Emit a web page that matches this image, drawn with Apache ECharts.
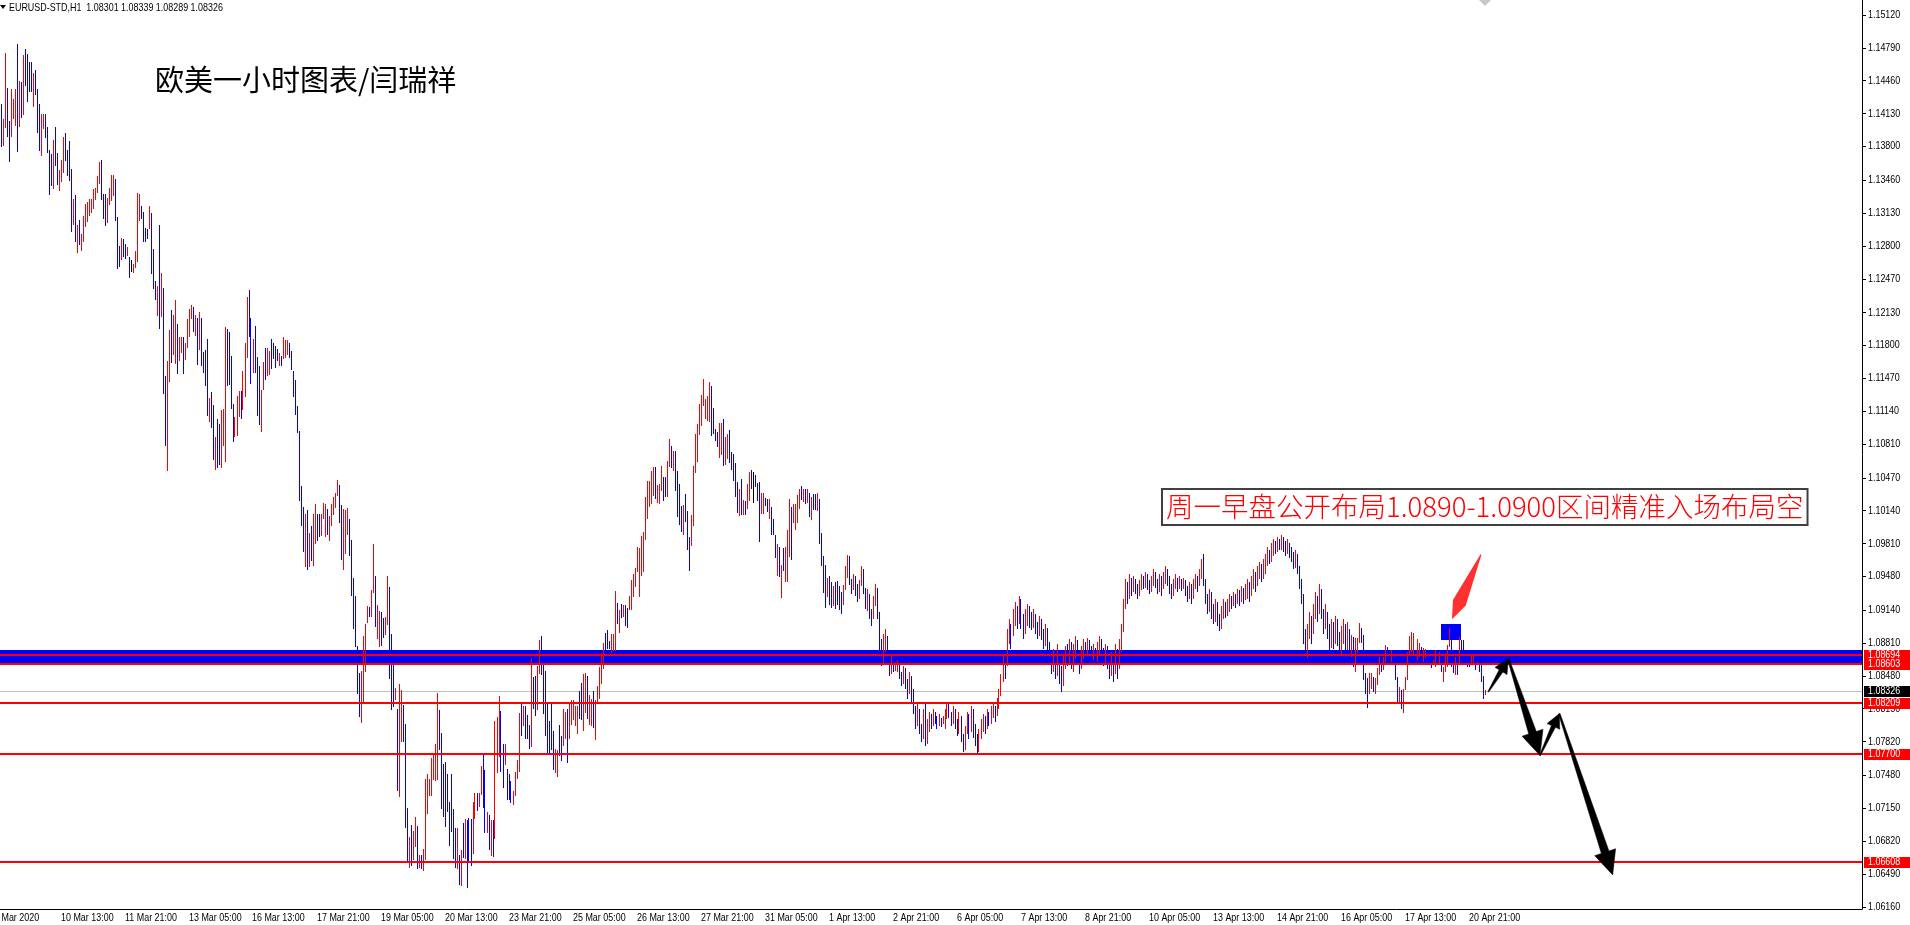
<!DOCTYPE html>
<html><head><meta charset="utf-8">
<script src="https://cdn.jsdelivr.net/npm/echarts@6/dist/echarts.min.js"></script>
<style>html,body{margin:0;padding:0;background:#fff;overflow:hidden}#c{width:1910px;height:925px}</style>
</head><body><div id="c"></div>
<script>
// ---- data (EURUSD H1, 9 Mar 2020 08:00 -> 21 Apr 2020 06:00) ----
const highs = [
1.1423,1.1408,1.1474,1.1439,1.1406,1.1438,1.1428,1.1438,1.1483,1.1446,
1.1445,1.1472,1.1478,1.1473,1.1465,1.1465,1.1454,1.1457,1.1438,1.1423,
1.1413,1.1413,1.1413,1.1399,1.1376,1.1372,1.1386,1.1400,1.1373,1.1356,
1.1366,1.1389,1.1393,1.1376,1.1385,1.1357,1.1327,1.1331,1.1301,1.1306,
1.1292,1.1310,1.1322,1.1324,1.1327,1.1327,1.1337,1.1338,1.1350,1.1364,
1.1366,1.1332,1.1332,1.1328,1.1338,1.1351,1.1351,1.1347,1.1309,1.1280,
1.1288,1.1287,1.1282,1.1279,1.1269,1.1266,1.1262,1.1275,1.1333,1.1332,
1.1320,1.1314,1.1298,1.1297,1.1320,1.1313,1.1277,1.1245,1.1240,1.1301,
1.1253,1.1238,1.1149,1.1164,1.1196,1.1216,1.1211,1.1226,1.1202,1.1189,
1.1189,1.1189,1.1182,1.1207,1.1217,1.1221,1.1219,1.1211,1.1208,1.1214,
1.1208,1.1173,1.1175,1.1186,1.1127,1.1133,1.1120,1.1088,1.1106,1.1101,
1.1115,1.1116,1.1199,1.1197,1.1194,1.1169,1.1121,1.1108,1.1129,1.1134,
1.1134,1.1154,1.1182,1.1229,1.1236,1.1208,1.1186,1.1200,1.1168,1.1159,
1.1135,1.1163,1.1177,1.1177,1.1174,1.1186,1.1182,1.1179,1.1176,1.1172,
1.1169,1.1189,1.1185,1.1185,1.1182,1.1174,1.1154,1.1145,1.1119,1.1094,
1.1039,1.1018,1.1011,1.1015,1.0992,1.0999,1.1011,1.1021,1.1011,1.1011,
1.1011,1.1022,1.1021,1.1016,1.1009,1.1021,1.1028,1.1032,1.1045,1.1040,
1.1020,1.1016,1.1015,1.1017,1.1006,1.0985,1.0946,1.0928,1.0878,1.0851,
1.0853,1.0888,1.0900,1.0918,1.0917,1.0934,1.0981,1.0948,1.0919,1.0913,
1.0912,1.0906,1.0907,1.0948,1.0937,1.0890,1.0861,1.0836,1.0815,1.0840,
1.0834,1.0819,1.0800,1.0715,1.0686,1.0698,1.0692,1.0706,1.0697,1.0668,
1.0668,1.0674,1.0744,1.0749,1.0744,1.0766,1.0770,1.0780,1.0831,1.0814,
1.0791,1.0759,1.0761,1.0749,1.0721,1.0749,1.0714,1.0695,1.0695,1.0668,
1.0673,1.0700,1.0704,1.0703,1.0705,1.0704,1.0721,1.0730,1.0730,1.0730,
1.0757,1.0769,1.0753,1.0711,1.0708,1.0703,1.0703,1.0803,1.0807,1.0828,
1.0813,1.0780,1.0780,1.0754,1.0749,1.0742,1.0732,1.0751,1.0764,1.0811,
1.0821,1.0818,1.0818,1.0809,1.0799,1.0866,1.0847,1.0848,1.0858,1.0884,
1.0888,1.0862,1.0853,1.0821,1.0803,1.0820,1.0793,1.0775,1.0774,1.0799,
1.0788,1.0815,1.0812,1.0815,1.0821,1.0824,1.0824,1.0818,1.0818,1.0833,
1.0841,1.0850,1.0851,1.0848,1.0829,1.0825,1.0833,1.0824,1.0838,1.0857,
1.0871,1.0881,1.0891,1.0894,1.0883,1.0890,1.0890,1.0933,1.0921,1.0914,
1.0920,1.0919,1.0919,1.0916,1.0928,1.0944,1.0950,1.0956,1.0978,1.0977,
1.0989,1.0993,1.1028,1.1044,1.1044,1.1054,1.1058,1.1058,1.1040,1.1041,
1.1059,1.1048,1.1048,1.1064,1.1086,1.1079,1.1074,1.1074,1.1054,1.1041,
1.1019,1.1020,1.1031,1.1014,1.0988,1.1010,1.1059,1.1091,1.1101,1.1121,
1.1130,1.1146,1.1126,1.1129,1.1143,1.1139,1.1117,1.1096,1.1093,1.1102,
1.1102,1.1106,1.1088,1.1091,1.1095,1.1073,1.1071,1.1062,1.1043,1.1036,
1.1046,1.1025,1.1024,1.1041,1.1053,1.1055,1.1053,1.1050,1.1042,1.1043,
1.1032,1.1032,1.1027,1.1026,1.1026,1.1018,1.1006,1.0990,1.0981,1.0978,
1.0959,1.0977,1.0978,1.0995,1.1026,1.1018,1.1021,1.1021,1.1030,1.1036,
1.1039,1.1036,1.1036,1.1036,1.1032,1.1028,1.1031,1.1031,1.1032,1.1026,
1.0992,1.0968,1.0959,1.0946,1.0948,1.0942,1.0938,1.0942,1.0943,1.0938,
1.0932,1.0939,1.0958,1.0969,1.0968,1.0945,1.0950,1.0948,1.0940,1.0944,
1.0958,1.0955,1.0936,1.0935,1.0930,1.0915,1.0928,1.0940,1.0936,1.0912,
1.0885,1.0890,1.0895,1.0888,1.0870,1.0868,1.0866,1.0862,1.0864,1.0862,
1.0852,1.0858,1.0856,1.0845,1.0852,1.0848,1.0835,1.0818,1.0820,1.0815,
1.0800,1.0815,1.0820,1.0805,1.0812,1.0810,1.0815,1.0812,1.0808,1.0810,
1.0806,1.0808,1.0815,1.0822,1.0820,1.0812,1.0818,1.0815,1.0805,1.0812,
1.0808,1.0790,1.0798,1.0812,1.0810,1.0818,1.0815,1.0800,1.0790,1.0795,
1.0805,1.0810,1.0808,1.0815,1.0812,1.0818,1.0822,1.0818,1.0826,1.0835,
1.0850,1.0868,1.0865,1.0895,1.0905,1.0900,1.0915,1.0922,1.0918,1.0928,
1.0925,1.0910,1.0915,1.0920,1.0918,1.0912,1.0915,1.0910,1.0902,1.0908,
1.0905,1.0895,1.0900,1.0896,1.0882,1.0870,1.0875,1.0868,1.0880,1.0872,
1.0858,1.0868,1.0878,1.0880,1.0885,1.0882,1.0880,1.0888,1.0884,1.0872,
1.0878,1.0885,1.0882,1.0886,1.0884,1.0878,1.0880,1.0876,1.0882,1.0888,
1.0885,1.0876,1.0880,1.0878,1.0868,1.0872,1.0870,1.0880,1.0875,1.0885,
1.0900,1.0925,1.0945,1.0942,1.0950,1.0946,1.0948,1.0945,1.0940,1.0944,
1.0950,1.0948,1.0952,1.0950,1.0944,1.0948,1.0955,1.0952,1.0945,1.0950,
1.0948,1.0952,1.0958,1.0955,1.0948,1.0940,1.0945,1.0950,1.0946,1.0948,
1.0945,1.0946,1.0944,1.0938,1.0942,1.0940,1.0945,1.0950,1.0948,1.0955,
1.0965,1.0970,1.0945,1.0930,1.0935,1.0932,1.0920,1.0925,1.0922,1.0910,
1.0918,1.0925,1.0922,1.0925,1.0930,1.0928,1.0932,1.0930,1.0935,1.0934,
1.0938,1.0936,1.0940,1.0945,1.0942,1.0948,1.0955,1.0952,1.0958,1.0962,
1.0960,1.0965,1.0970,1.0978,1.0975,1.0982,1.0986,1.0984,1.0988,1.0986,
1.0990,1.0988,1.0984,1.0986,1.0982,1.0978,1.0972,1.0975,1.0970,1.0958,
1.0945,1.0930,1.0895,1.0900,1.0912,1.0908,1.0920,1.0932,1.0928,1.0940,
1.0935,1.0915,1.0920,1.0912,1.0900,1.0905,1.0902,1.0908,1.0905,1.0892,
1.0898,1.0905,1.0900,1.0902,1.0895,1.0889,1.0887,1.0886,1.0886,1.0901,
1.0896,1.0889,1.0851,1.0846,1.0851,1.0851,1.0847,1.0846,1.0856,1.0867,
1.0861,1.0867,1.0879,1.0877,1.0874,1.0874,1.0871,1.0859,1.0847,1.0837,
1.0834,1.0835,1.0847,1.0872,1.0888,1.0892,1.0891,1.0874,1.0885,1.0881,
1.0877,1.0876,1.0875,1.0871,1.0867,1.0862,1.0864,1.0874,1.0869,1.0872,
1.0862,1.0857,1.0871,1.0879,1.0896,1.0897,1.0866,1.0867,1.0861,1.0887,
1.0884,1.0884,1.0874,1.0861,1.0861,1.0869,1.0869,1.0862,1.0862,1.0859,
1.0859,1.0848,1.0834];
const lows = [
1.1379,1.1380,1.1398,1.1389,1.1364,1.1389,1.1408,1.1401,1.1374,1.1399,
1.1409,1.1412,1.1441,1.1425,1.1435,1.1435,1.1420,1.1432,1.1393,1.1375,
1.1370,1.1397,1.1388,1.1373,1.1331,1.1340,1.1337,1.1360,1.1341,1.1335,
1.1344,1.1353,1.1365,1.1350,1.1345,1.1294,1.1301,1.1284,1.1273,1.1281,
1.1275,1.1284,1.1299,1.1304,1.1310,1.1313,1.1317,1.1326,1.1333,1.1342,
1.1326,1.1307,1.1300,1.1303,1.1321,1.1325,1.1330,1.1305,1.1257,1.1259,
1.1266,1.1269,1.1267,1.1270,1.1248,1.1254,1.1253,1.1258,1.1264,1.1305,
1.1307,1.1284,1.1284,1.1287,1.1297,1.1252,1.1237,1.1226,1.1210,1.1197,
1.1209,1.1131,1.1079,1.1054,1.1143,1.1162,1.1170,1.1161,1.1151,1.1164,
1.1172,1.1151,1.1165,1.1177,1.1189,1.1207,1.1194,1.1190,1.1160,1.1175,
1.1159,1.1152,1.1139,1.1109,1.1103,1.1097,1.1065,1.1055,1.1057,1.1060,
1.1057,1.1079,1.1063,1.1139,1.1140,1.1116,1.1083,1.1088,1.1089,1.1108,
1.1106,1.1115,1.1128,1.1167,1.1189,1.1141,1.1152,1.1152,1.1109,1.1100,
1.1093,1.1135,1.1145,1.1149,1.1150,1.1156,1.1166,1.1157,1.1164,1.1159,
1.1159,1.1166,1.1167,1.1170,1.1167,1.1155,1.1128,1.1110,1.1092,1.1024,
1.0999,1.0972,1.0957,1.0954,1.0957,1.0963,1.0958,1.0981,1.0984,1.0988,
1.0989,1.1006,1.0988,1.0990,1.0984,1.0999,1.1010,1.1017,1.1029,1.1002,
1.0964,1.0954,1.0970,1.0990,1.0968,1.0928,1.0895,1.0877,1.0830,1.0807,
1.0801,1.0820,1.0852,1.0901,1.0907,1.0907,1.0931,1.0897,1.0885,1.0877,
1.0878,1.0886,1.0889,1.0899,1.0845,1.0814,1.0817,1.0824,1.0732,1.0726,
1.0782,1.0782,1.0695,1.0661,1.0655,1.0657,1.0663,1.0676,1.0654,1.0655,
1.0654,1.0652,1.0663,1.0709,1.0727,1.0727,1.0743,1.0742,1.0743,1.0774,
1.0714,1.0706,1.0696,1.0711,1.0677,1.0691,1.0664,1.0655,1.0654,1.0638,
1.0637,1.0665,1.0664,1.0635,1.0661,1.0657,1.0669,1.0704,1.0712,1.0716,
1.0728,1.0715,1.0690,1.0690,1.0673,1.0667,1.0666,1.0684,1.0750,1.0767,
1.0751,1.0735,1.0758,1.0723,1.0723,1.0720,1.0718,1.0727,1.0744,1.0751,
1.0788,1.0798,1.0785,1.0785,1.0775,1.0777,1.0815,1.0808,1.0814,1.0850,
1.0849,1.0810,1.0788,1.0769,1.0771,1.0774,1.0753,1.0750,1.0746,1.0768,
1.0763,1.0778,1.0785,1.0760,1.0785,1.0799,1.0804,1.0798,1.0790,1.0805,
1.0804,1.0793,1.0811,1.0805,1.0799,1.0798,1.0796,1.0784,1.0821,1.0825,
1.0840,1.0855,1.0864,1.0875,1.0875,1.0871,1.0873,1.0873,1.0900,1.0891,
1.0906,1.0907,1.0898,1.0896,1.0914,1.0914,1.0927,1.0937,1.0952,1.0927,
1.0948,1.0952,1.0985,1.1006,1.1018,1.1021,1.1029,1.1026,1.1022,1.1021,
1.1034,1.1024,1.1028,1.1028,1.1058,1.1057,1.1054,1.1034,1.1008,1.1000,
1.0993,1.0990,1.1003,1.0974,1.0953,1.0979,1.0999,1.1052,1.1063,1.1090,
1.1099,1.1119,1.1106,1.1104,1.1103,1.1089,1.1091,1.1084,1.1078,1.1067,
1.1070,1.1059,1.1060,1.1066,1.1062,1.1055,1.1044,1.1028,1.1012,1.1009,
1.1010,1.1010,1.1010,1.1016,1.1024,1.1036,1.1022,1.1038,1.1024,1.0983,
1.1011,1.1011,1.1019,1.1013,1.1006,1.0990,1.0990,1.0966,1.0948,1.0947,
1.0926,1.0953,1.0942,1.0942,1.0967,1.0964,1.1002,1.0995,1.1002,1.1016,
1.1025,1.1023,1.1021,1.1022,1.1008,1.1005,1.1015,1.1015,1.1014,1.0981,
1.0958,1.0931,1.0916,1.0927,1.0919,1.0916,1.0918,1.0915,1.0919,1.0914,
1.0910,1.0919,1.0934,1.0946,1.0939,1.0930,1.0934,1.0928,1.0922,1.0925,
1.0938,1.0930,1.0915,1.0913,1.0905,1.0898,1.0905,1.0918,1.0905,1.0870,
1.0858,1.0860,1.0872,1.0862,1.0848,1.0850,1.0852,1.0853,1.0852,1.0845,
1.0838,1.0840,1.0835,1.0825,1.0830,1.0822,1.0810,1.0795,1.0798,1.0790,
1.0782,1.0785,1.0778,1.0780,1.0792,1.0795,1.0798,1.0800,1.0795,1.0798,
1.0797,1.0800,1.0795,1.0805,1.0806,1.0798,1.0800,1.0795,1.0788,1.0790,
1.0782,1.0772,1.0774,1.0790,1.0785,1.0792,1.0786,1.0778,1.0769,1.0772,
1.0785,1.0792,1.0790,1.0795,1.0798,1.0800,1.0806,1.0802,1.0808,1.0815,
1.0828,1.0842,1.0845,1.0858,1.0880,1.0875,1.0888,1.0898,1.0895,1.0900,
1.0895,1.0885,1.0890,1.0898,1.0896,1.0894,1.0896,1.0890,1.0885,1.0888,
1.0884,1.0875,1.0878,1.0872,1.0860,1.0850,1.0852,1.0845,1.0848,1.0840,
1.0832,1.0838,1.0855,1.0858,1.0860,1.0855,1.0852,1.0865,1.0860,1.0850,
1.0855,1.0865,1.0866,1.0868,1.0868,1.0862,1.0864,1.0860,1.0862,1.0870,
1.0866,1.0858,1.0860,1.0855,1.0845,1.0848,1.0842,1.0850,1.0845,1.0855,
1.0872,1.0892,1.0915,1.0920,1.0925,1.0928,1.0932,1.0930,1.0925,1.0928,
1.0934,1.0935,1.0936,1.0934,1.0930,1.0932,1.0938,1.0936,1.0930,1.0932,
1.0928,1.0935,1.0940,1.0938,1.0930,1.0925,1.0928,1.0935,1.0932,1.0935,
1.0933,1.0935,1.0928,1.0922,1.0925,1.0920,1.0925,1.0935,1.0932,1.0938,
1.0945,1.0938,1.0920,1.0910,1.0912,1.0905,1.0900,1.0902,1.0898,1.0893,
1.0895,1.0905,1.0906,1.0908,1.0912,1.0915,1.0918,1.0916,1.0920,1.0918,
1.0922,1.0920,1.0924,1.0925,1.0922,1.0928,1.0935,1.0932,1.0938,1.0945,
1.0942,1.0945,1.0950,1.0958,1.0960,1.0962,1.0968,1.0970,1.0972,1.0974,
1.0975,1.0972,1.0968,1.0970,1.0966,1.0962,1.0955,1.0956,1.0950,1.0935,
1.0920,1.0880,1.0862,1.0866,1.0885,1.0880,1.0890,1.0905,1.0902,1.0910,
1.0905,1.0890,1.0895,1.0885,1.0872,1.0876,1.0875,1.0880,1.0878,1.0866,
1.0870,1.0880,1.0872,1.0874,1.0868,1.0867,1.0857,1.0852,1.0871,1.0881,
1.0881,1.0844,1.0830,1.0816,1.0830,1.0835,1.0832,1.0830,1.0839,1.0849,
1.0852,1.0854,1.0862,1.0864,1.0862,1.0862,1.0861,1.0844,1.0820,1.0820,
1.0815,1.0811,1.0834,1.0844,1.0869,1.0872,1.0869,1.0859,1.0864,1.0867,
1.0864,1.0862,1.0866,1.0862,1.0859,1.0856,1.0859,1.0857,1.0859,1.0861,
1.0852,1.0842,1.0852,1.0857,1.0877,1.0857,1.0851,1.0849,1.0849,1.0861,
1.0874,1.0874,1.0866,1.0857,1.0857,1.0859,1.0859,1.0854,1.0859,1.0852,
1.0842,1.0825,1.0829];
// 1 = closed above open (red), -1 = closed below open (blue), 0 = unchanged
const dirs = [
-1,1,1,-1,-1,1,1,1,-1,1, -1,1,-1,-1,-1,-1,1,-1,-1,-1, 1,1,-1,-1,-1,-1,1,-1,-1,1, 1,1,-1,-1,-1,-1,1,-1,1,-1,
1,1,1,1,1,1,1,1,1,1, -1,-1,-1,1,1,1,1,-1,-1,-1, 1,-1,-1,1,-1,0,1,1,1,1, -1,-1,-1,-1,1,-1,-1,-1,1,-1,
1,-1,-1,1,1,-1,1,1,-1,1, 1,-1,1,1,1,1,-1,1,-1,1, -1,-1,-1,-1,1,-1,-1,1,-1,-1, 1,1,1,-1,-1,-1,-1,1,1,1,
-1,1,1,1,-1,-1,1,-1,-1,-1, 1,1,-1,1,1,-1,-1,-1,-1,1, -1,1,1,1,-1,-1,-1,-1,-1,-1, -1,-1,1,-1,1,-1,1,1,-1,-1,
1,1,1,-1,1,1,1,1,1,-1, -1,1,1,1,-1,-1,-1,-1,-1,-1, 1,1,1,1,-1,1,1,-1,1,1, -1,-1,1,1,-1,-1,-1,1,-1,1,
1,-1,-1,-1,1,-1,1,1,-1,1, -1,1,1,1,1,1,1,1,1,-1, -1,-1,-1,-1,-1,-1,-1,-1,1,-1, 1,-1,1,-1,-1,-1,1,1,-1,1,
1,-1,-1,1,-1,1,-1,1,1,1, -1,-1,1,-1,-1,-1,1,1,1,1, -1,1,-1,-1,-1,1,-1,-1,1,1, -1,-1,-1,-1,-1,-1,-1,1,1,-1,
-1,1,1,-1,1,1,1,1,1,-1, -1,1,1,-1,1,1,-1,1,1,1, 1,1,-1,-1,-1,1,1,1,-1,1, -1,1,-1,-1,1,1,1,1,1,1,
1,1,1,1,1,1,1,-1,1,1, 1,-1,-1,1,1,-1,1,-1,-1,-1, -1,1,-1,-1,-1,1,1,1,1,1, 1,1,1,1,1,-1,-1,-1,-1,1,
1,-1,1,1,-1,-1,-1,-1,-1,1, -1,1,-1,1,1,-1,0,-1,-1,-1, 1,1,-1,-1,1,-1,-1,-1,1,-1, 1,-1,1,1,1,-1,1,1,1,1,
-1,1,-1,1,-1,1,-1,-1,1,-1, -1,-1,-1,1,-1,-1,1,-1,-1,-1, -1,1,1,1,-1,-1,1,-1,-1,1, 1,-1,-1,1,-1,-1,1,1,-1,-1,
-1,1,1,-1,-1,1,-1,1,1,-1, -1,1,-1,-1,1,-1,-1,-1,1,-1, -1,1,-1,1,1,-1,1,-1,-1,1, -1,1,1,1,-1,-1,1,-1,-1,1,
-1,-1,1,1,-1,1,-1,-1,-1,1, 1,1,-1,1,-1,1,1,-1,1,1, 1,1,-1,1,1,-1,1,1,-1,1, -1,-1,1,1,-1,-1,1,-1,-1,1,
-1,-1,1,-1,-1,-1,1,-1,1,-1, -1,1,1,-1,1,-1,1,1,-1,-1, 1,1,-1,1,-1,-1,1,-1,1,1, -1,-1,1,-1,-1,1,-1,1,-1,1,
1,1,1,-1,1,-1,1,-1,-1,1, 1,-1,1,-1,-1,1,1,-1,-1,1, -1,1,1,-1,-1,-1,1,1,-1,1, -1,1,-1,-1,1,-1,1,1,-1,1,
1,-1,-1,-1,1,-1,-1,1,-1,-1, 1,1,-1,1,1,-1,1,-1,1,-1, 1,-1,1,1,-1,1,1,-1,1,1, -1,1,1,1,-1,1,1,-1,1,-1,
1,-1,-1,1,-1,-1,-1,1,-1,-1, -1,-1,-1,1,1,-1,1,1,-1,1, -1,-1,1,-1,-1,1,-1,1,-1,-1, 1,1,-1,1,-1,1,-1,1,1,1,
-1,-1,-1,-1,1,1,-1,1,1,1, -1,1,1,-1,-1,1,-1,-1,-1,1, -1,1,1,1,1,1,1,-1,1,1, -1,1,1,-1,-1,-1,1,1,-1,1,
-1,1,1,1,1,-1,-1,1,-1,1, -1,-1,-1,-1,-1,1,1,-1,1,-1, -1,-1,1];
const lastQuote = {open: 1.08301, high: 1.08339, low: 1.08289, close: 1.08326};

const startHour = Date.UTC(2020, 2, 9, 8);   // first bar
const totalSlots = 931;                        // bars + empty chart shift area
const firstLabel = '9 Mar 2020';
const timeLabels = ['10 Mar 13:00','11 Mar 21:00','13 Mar 05:00','16 Mar 13:00','17 Mar 21:00','19 Mar 05:00',
  '20 Mar 13:00','23 Mar 21:00','25 Mar 05:00','26 Mar 13:00','27 Mar 21:00','31 Mar 05:00','1 Apr 13:00',
  '2 Apr 21:00','6 Apr 05:00','7 Apr 13:00','8 Apr 21:00','10 Apr 05:00','13 Apr 13:00','14 Apr 21:00',
  '16 Apr 05:00','17 Apr 13:00','20 Apr 21:00'];
const priceTicks = [1.15120,1.14790,1.14460,1.14130,1.13800,1.13460,1.13130,1.12800,1.12470,1.12130,1.11800,
  1.11470,1.11140,1.10810,1.10470,1.10140,1.09810,1.09480,1.09140,1.08810,1.08480,1.08150,1.07820,1.07480,
  1.07150,1.06820,1.06490,1.06160];
const priceRange = [1.06138, 1.15271];
const levels = [1.08694, 1.08603, 1.08209, 1.07700, 1.06608];
const bidPrice = lastQuote.close;
const band = [1.0860, 1.0874];
const entryBox = [720, 730, 1.0884, 1.0900];           // bar index from/to, price low/high
const pathPoints = [[743.65,1.0832],[753.65,1.0865],[769.5,1.0768],[779.15,1.0810],[805.85,1.0648]];
const pointerArrow = [[740,1.0970],[725.5,1.0905]];
const noteAnchor = [581, 1.1035];
const noteText = '周一早盘公开布局1.0890-1.0900区间精准入场布局空';
const titleText = '欧美一小时图表/闫瑞祥';
const symbolText = 'EURUSD-STD,H1';

// ---- build ----
const MON = ['Jan','Feb','Mar','Apr','May','Jun'];
const cats = [];
for (let t = startHour; cats.length < totalSlots; t += 3600000) {
  const d = new Date(t), wd = d.getUTCDay();
  if (wd === 0 || wd === 6) continue;
  cats.push(d.getUTCDate() + ' ' + MON[d.getUTCMonth()] + ' ' + String(d.getUTCHours()).padStart(2, '0') + ':00');
}
const labelSet = new Set(timeLabels);
const bars = highs.map((h, i) => [i, h, lows[i], dirs[i]]);
const FONT = "10.5px 'Liberation Sans', Arial, sans-serif";
const SX = 0.85;   // narrow terminal font look
const CJK = "'Noto Sans CJK SC','Noto Sans CJK JP',sans-serif";

function scaledText(x, y, text, fill, extraStyle) {
  return {type: 'text', x: x, y: y, scaleX: SX, z2: 5,
    style: Object.assign({x: 0, y: 0, text: text, font: FONT, fill: fill || '#000', align: 'left', verticalAlign: 'middle'}, extraStyle || {})};
}

const chart = echarts.init(document.getElementById('c'));
chart.setOption({
  animation: false,
  backgroundColor: '#ffffff',
  grid: {left: 0, top: 0, width: 1862, height: 909, containLabel: false},
  xAxis: {
    type: 'category', data: cats, boundaryGap: true,
    axisLine: {lineStyle: {color: '#000', width: 1}},
    axisTick: {alignWithLabel: true, interval: (i, v) => labelSet.has(v), length: 4, lineStyle: {color: '#000'}},
    axisLabel: {show: false},
    splitLine: {show: false}
  },
  yAxis: {
    type: 'value', position: 'right', min: priceRange[0], max: priceRange[1],
    axisLine: {show: true, lineStyle: {color: '#000', width: 1}},
    axisTick: {show: true, customValues: priceTicks, length: 4, lineStyle: {color: '#000'}},
    axisLabel: {show: false},
    splitLine: {show: false}
  },
  series: [
    { // background objects: band, entry box, bid line
      type: 'custom', z: 1, silent: true, data: [[0, band[0]]],
      renderItem: (params, api) => {
        const cs = params.coordSys;
        const yt = Math.round(api.coord([0, band[1]])[1]), yb = Math.round(api.coord([0, band[0]])[1]);
        const a = api.coord([entryBox[0], entryBox[3]]), b = api.coord([entryBox[1], entryBox[2]]);
        const yBid = Math.round(api.coord([0, bidPrice])[1]);
        return {type: 'group', children: [
          {type: 'rect', shape: {x: cs.x, y: yBid, width: cs.width, height: 1}, style: {fill: '#c0c0c0'}},
          {type: 'rect', shape: {x: cs.x, y: yt, width: cs.width, height: yb - yt}, style: {fill: '#0000ff'}},
          {type: 'rect', shape: {x: Math.round(a[0]), y: Math.round(a[1]), width: Math.round(b[0] - a[0]),
            height: Math.round(b[1] - a[1])}, style: {fill: '#0000ff'}}
        ]};
      }
    },
    { // hourly bars
      type: 'custom', z: 2, silent: true, data: bars, encode: {x: 0, y: [1, 2]},
      renderItem: (params, api) => {
        const i = api.value(0);
        const top = api.coord([i, api.value(1)]), bot = api.coord([i, api.value(2)]);
        const d = api.value(3);
        const y0 = Math.round(top[1]), y1 = Math.round(bot[1]);
        return {type: 'rect', shape: {x: Math.floor(top[0]), y: y0, width: 1, height: Math.max(1, y1 - y0)},
          style: {fill: d > 0 ? '#ff0000' : (d < 0 ? '#0000ff' : '#000000')}};
      }
    },
    { // axis tick labels (time + price scale), placed through the axes
      type: 'custom', z: 3, silent: true, data: [[0, priceTicks[0]]],
      renderItem: (params, api) => {
        const cs = params.coordSys;
        const kids = [];
        const yText = cs.y + cs.height + 9;
        timeLabels.forEach(l => {
          const i = cats.indexOf(l);
          const x = Math.floor(api.coord([i, priceTicks[0]])[0]);
          kids.push(scaledText(x + 2, yText, l));
        });
        kids.push(scaledText(-6, yText, firstLabel));
        priceTicks.forEach(p => {
          const y = Math.round(api.coord([0, p])[1]);
          kids.push(scaledText(cs.x + cs.width + 6, y + 0.5, p.toFixed(5)));
        });
        return {type: 'group', children: kids};
      }
    },
    { // horizontal levels + price tags on the scale
      type: 'custom', z: 4, silent: true, data: [[0, levels[0]]],
      renderItem: (params, api) => {
        const cs = params.coordSys;
        const kids = [];
        const tag = (p, bg) => {
          const y = Math.round(api.coord([0, p])[1]);
          kids.push({type: 'rect', shape: {x: cs.x + cs.width + 2, y: y - 5, width: 48, height: 11}, style: {fill: bg}});
          kids.push(scaledText(cs.x + cs.width + 6, y + 0.5, p.toFixed(5), '#ffffff'));
        };
        levels.forEach(p => {
          const y = Math.round(api.coord([0, p])[1]);
          kids.push({type: 'rect', shape: {x: cs.x, y: y - 1, width: cs.width, height: 2}, style: {fill: '#ff0000'}});
        });
        tag(bidPrice, '#000000');
        levels.forEach(p => tag(p, '#ff0000'));
        return {type: 'group', children: kids};
      }
    }
  ]
});

// ---- drawings anchored to time/price ----
const xa = chart.convertToPixel({xAxisIndex: 0}, cats[0]);
const xb = chart.convertToPixel({xAxisIndex: 0}, cats[1]);
const step = xb - xa;
const toPx = ([i, p]) => [xa + i * step, chart.convertToPixel({yAxisIndex: 0}, p)];

function arrowShape(tail, tip, headLen, headHalf, shaftHalf, tailHalf) {
  const dx = tip[0] - tail[0], dy = tip[1] - tail[1], L = Math.hypot(dx, dy);
  const ux = dx / L, uy = dy / L, nx = -uy, ny = ux;
  const bx = tip[0] - ux * headLen, by = tip[1] - uy * headLen;
  return [[tail[0] + nx * tailHalf, tail[1] + ny * tailHalf], [bx + nx * shaftHalf, by + ny * shaftHalf],
    [bx + nx * headHalf, by + ny * headHalf], tip, [bx - nx * headHalf, by - ny * headHalf],
    [bx - nx * shaftHalf, by - ny * shaftHalf], [tail[0] - nx * tailHalf, tail[1] - ny * tailHalf]];
}
const pts = pathPoints.map(toPx);
const graphics = [];
const sizes = [[14, 7, 2.2, 0.5], [24, 11, 4, 0.8], [14, 7, 2.2, 0.5], [24, 11, 4, 0.8]];
for (let k = 0; k < pts.length - 1; k++) {
  const s = sizes[k];
  graphics.push({type: 'polygon', z: 20, shape: {points: arrowShape(pts[k], pts[k + 1], s[0], s[1], s[2], s[3])},
    style: {fill: '#000', stroke: '#000', lineWidth: 0.5}});
}
const pa = pointerArrow.map(toPx);
graphics.push({type: 'polygon', z: 20, shape: {points: arrowShape(pa[0], pa[1], 18, 7, 7, 0.5)},
  style: {fill: '#ff3030'}});

const na = toPx(noteAnchor);
graphics.push({type: 'text', z: 20, style: {x: Math.round(na[0]), y: Math.round(na[1]), text: noteText,
  font: '300 27.5px ' + CJK, fill: '#ff0000', backgroundColor: '#ffffff', borderColor: '#404040', borderWidth: 2,
  padding: [1, 3, 1, 3], lineHeight: 32, verticalAlign: 'top', align: 'left'}});

graphics.push({type: 'text', z: 20, style: {x: 155, y: 80, text: titleText, font: '29px ' + CJK, fill: '#000',
  verticalAlign: 'middle', align: 'left'}});
graphics.push({type: 'polygon', z: 20, shape: {points: [[0, 5], [6, 5], [3, 9]]}, style: {fill: '#000'}});
graphics.push(Object.assign(scaledText(9, 8,
  symbolText + '  ' + [lastQuote.open, lastQuote.high, lastQuote.low, lastQuote.close].map(v => v.toFixed(5)).join(' ')), {z: 20}));
const shiftX = Math.round(toPx([highs.length - 1, 0])[0]);
graphics.push({type: 'polygon', z: 20, shape: {points: [[shiftX - 6, 0], [shiftX + 6, 0], [shiftX, 6]]},
  style: {fill: '#c8c8c8'}});
chart.setOption({graphic: graphics});
</script>
</body></html>
